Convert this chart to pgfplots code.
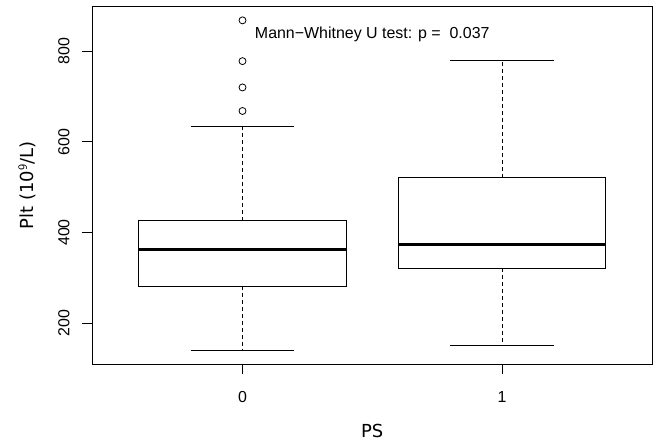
\documentclass[border=0pt]{standalone}
\usepackage{pgfplots}
\pgfplotsset{compat=1.18}
\usepgfplotslibrary{statistics}
\usepackage{fontspec}
\setmainfont{Liberation Sans}
\newfontfamily\dejavu{DejaVu Sans}
\pgfplotsset{
  boxplot/every median/.style={line width=3bp},
  boxplot/every box/.style={line width=0.8bp},
  boxplot/draw/lower whisker/.code={%
    \draw[line width=0.8bp, dash pattern=on 4bp off 3bp]
      (boxplot cs:\pgfplotsboxplotvalue{lower quartile}) --
      (boxplot cs:\pgfplotsboxplotvalue{lower whisker});
    \draw[line width=0.8bp, solid]
      (boxplot whisker cs:\pgfplotsboxplotvalue{lower whisker},0) --
      (boxplot whisker cs:\pgfplotsboxplotvalue{lower whisker},1);
  },
  boxplot/draw/upper whisker/.code={%
    \draw[line width=0.8bp, dash pattern=on 4bp off 3bp]
      (boxplot cs:\pgfplotsboxplotvalue{upper quartile}) --
      (boxplot cs:\pgfplotsboxplotvalue{upper whisker});
    \draw[line width=0.8bp, solid]
      (boxplot whisker cs:\pgfplotsboxplotvalue{upper whisker},0) --
      (boxplot whisker cs:\pgfplotsboxplotvalue{upper whisker},1);
  },
}
\begin{document}
\begin{tikzpicture}
\path (-92bp,-76.7bp) rectangle (562bp,364.3bp);
\begin{axis}[
  at={(0,0)}, anchor=south west,
  scale only axis, width=560.5bp, height=358bp,
  xmin=0.42, xmax=2.58, ymin=109, ymax=899,
  clip=false,
  axis line style={line width=0.8bp},
  xtick={1,2}, xticklabels={0,1},
  ytick={200,400,600,800},
  tick pos=left,
  tick align=outside, major tick length=10bp,
  xtick style={draw=black, line width=0.8bp},
  ytick style={draw=black, line width=0.8bp},
  /pgf/number format/assume math mode=true,
  ticklabel style={font=\fontsize{16}{18}\selectfont},
  xticklabel style={anchor=base, yshift=-28.4bp},
  yticklabel style={xshift=-12.5bp, rotate=90, anchor=base},
  xlabel={\dejavu PS}, ylabel={\dejavu Plt (10$^{\mathsf{9}}$/L)},
  label style={font=\fontsize{18}{20}\selectfont},
  xlabel style={at={(axis description cs:0.5,-0.1863)}, anchor=center},
  ylabel style={at={(axis description cs:-0.116,0.5)}, anchor=center, rotate=0},
]
\addplot[black, mark=o, mark size=3.5bp, mark options={line width=0.8bp, solid},
  boxplot prepared={draw position=1, draw direction=y, box extend=0.8, whisker extend=0.4,
    lower whisker=140, lower quartile=282,
    median=363, upper quartile=426, upper whisker=634}]
  table[row sep=\\, y index=0] {868\\778\\720\\668\\};
\addplot[black, mark=o, mark size=3.5bp,
  boxplot prepared={draw position=2, draw direction=y, box extend=0.8, whisker extend=0.4,
    lower whisker=150, lower quartile=321,
    median=374, upper quartile=521, upper whisker=779}]
  coordinates {};
\node[font=\fontsize{16}{18}\selectfont] at (axis cs:1.5,837) {Mann−Whitney U test: p =\ \ 0.037};
\draw[line width=0.8bp] (axis cs:1,109) -- ([yshift=-10bp]axis cs:1,109);
\draw[line width=0.8bp] (axis cs:2,109) -- ([yshift=-10bp]axis cs:2,109);
\draw[line width=0.8bp] (axis cs:0.42,200) -- ([xshift=-10bp]axis cs:0.42,200);
\draw[line width=0.8bp] (axis cs:0.42,400) -- ([xshift=-10bp]axis cs:0.42,400);
\draw[line width=0.8bp] (axis cs:0.42,600) -- ([xshift=-10bp]axis cs:0.42,600);
\draw[line width=0.8bp] (axis cs:0.42,800) -- ([xshift=-10bp]axis cs:0.42,800);
\end{axis}
\end{tikzpicture}
\end{document}
